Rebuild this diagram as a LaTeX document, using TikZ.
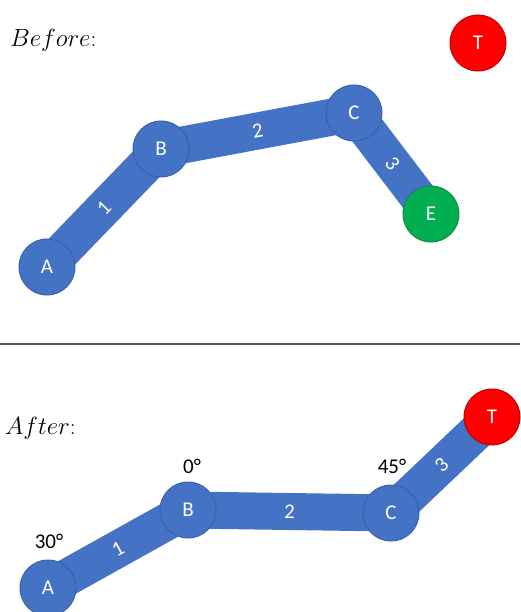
\documentclass[tikz,border=0pt]{standalone}
\usepackage{fontspec}
\newfontfamily\carlito{Carlito}
\usetikzlibrary{backgrounds}
\definecolor{jblue}{HTML}{4472C4}
\definecolor{jblueedge}{HTML}{3A62AE}
\definecolor{jgreen}{HTML}{00B050}
\definecolor{jgreenedge}{HTML}{138A45}
\definecolor{jred}{HTML}{FF0000}
\definecolor{jrededge}{HTML}{C00000}
\definecolor{rulegray}{HTML}{555555}
\newcommand{\bigtitlefont}{\fontsize{23}{23}\selectfont}
\begin{document}
\begin{tikzpicture}[x=1pt,y=-1pt,
  joint/.style={circle, minimum size=56pt, inner sep=0pt, fill=jblue, draw=jblueedge,
    line width=1pt, text=white, font=\carlito\fontsize{21}{21}\selectfont},
  goal/.style={joint, fill=jred, draw=jrededge},
  effector/.style={joint, fill=jgreen, draw=jgreenedge},
  bar/.style={line width=37pt, draw=jblue},
  barlabel/.style={midway, sloped, text=white, inner sep=0pt, font=\carlito\fontsize{21}{21}\selectfont},
  anglabel/.style={text=black, inner sep=0pt, font=\carlito\fontsize{21}{21}\selectfont},
  headtext/.style={anchor=base west, inner sep=0pt}
]
\useasboundingbox (0,0) rectangle (520,612);

% ---------- Before ----------
\node[headtext] (tb) at (10,47) {\bigtitlefont$Before$:};
\node[joint] (A1) at (47,267) {A};
\node[joint] (B1) at (161,149) {B};
\node[joint] (C1) at (354,113) {C};
\node[effector] (E1) at (431,214) {E};
\node[goal] (T1) at (478,43) {T};
\begin{scope}[on background layer]
  \draw[bar] (A1.center) -- node[barlabel] {1} (B1.center);
  \draw[bar] (B1.center) -- node[barlabel] {2} (C1.center);
  \draw[bar] (C1.center) -- node[barlabel] {3} (E1.center);
\end{scope}

% ---------- separator ----------
\coordinate (sl) at (0,344);
\coordinate (sr) at (520,344);
\draw[rulegray, line width=1.4pt] (sl) -- (sr);

% ---------- After ----------
\node[headtext] (ta) at (5,434) {\bigtitlefont$After$:};
\node[joint] (A2) at (48,588) {A};
\node[joint] (B2) at (188,510) {B};
\node[joint] (C2) at (391,513) {C};
\node[goal] (T2) at (492,417) {T};
\begin{scope}[on background layer]
  \draw[bar] (A2.center) -- node[barlabel] {1} (B2.center);
  \draw[bar] (B2.center) -- node[barlabel] {2} (C2.center);
  \draw[bar] (C2.center) -- node[barlabel] {3} (T2.center);
\end{scope}
\node[anglabel] (a30) at (49,541) {30°};
\node[anglabel] (a0) at (192,466) {0°};
\node[anglabel] (a45) at (392,466) {45°};
\end{tikzpicture}
\end{document}
